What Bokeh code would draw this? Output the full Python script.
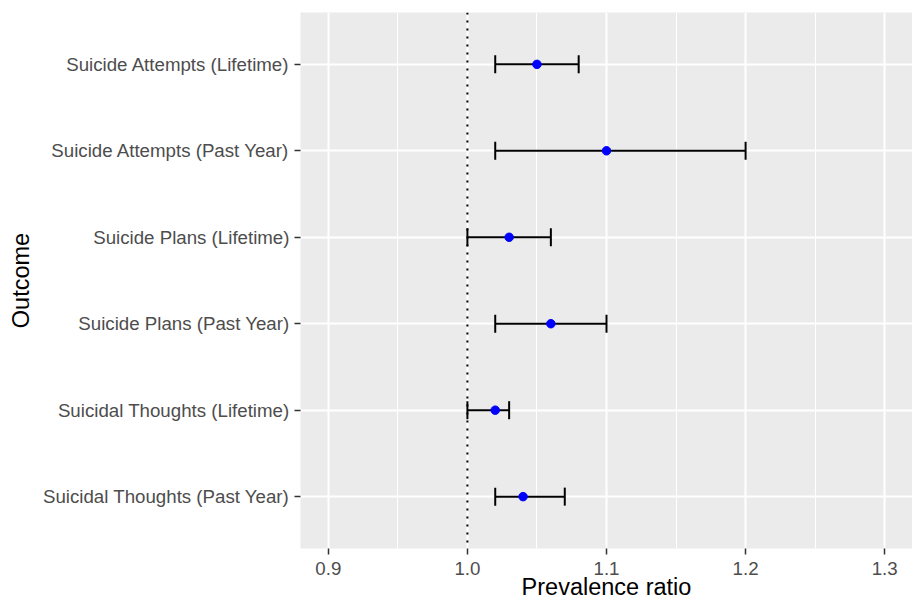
from bokeh.plotting import figure
from bokeh.models import (ColumnDataSource, Whisker, TeeHead, Span, FixedTicker,
                          FactorRange, Range1d, PrintfTickFormatter)
from bokeh.embed import file_html
from bokeh.resources import INLINE

# ---- data (top to bottom as in the chart) ----
outcomes = [
    "Suicide Attempts (Lifetime)",
    "Suicide Attempts (Past Year)",
    "Suicide Plans (Lifetime)",
    "Suicide Plans (Past Year)",
    "Suicidal Thoughts (Lifetime)",
    "Suicidal Thoughts (Past Year)",
]
estimate = [1.05, 1.10, 1.03, 1.06, 1.02, 1.04]
lower = [1.02, 1.02, 1.00, 1.02, 1.00, 1.02]
upper = [1.08, 1.20, 1.06, 1.10, 1.03, 1.07]
x_major_ticks = [0.9, 1.0, 1.1, 1.2, 1.3]
x_minor_ticks = [0.95, 1.05, 1.15, 1.25]
reference_value = 1.0
x_title = "Prevalence ratio"
y_title = "Outcome"

FONT = "Liberation Sans"

source = ColumnDataSource(dict(outcome=outcomes, est=estimate, lo=lower, hi=upper))

y_range = FactorRange(factors=list(reversed(outcomes)),
                      range_padding=0.1, range_padding_units="absolute")

p = figure(width=912, height=603, output_backend="svg", toolbar_location=None,
           x_range=Range1d(0.88, 1.32), y_range=y_range,
           min_border_left=300, min_border_right=0, min_border_top=12,
           min_border_bottom=55)

p.background_fill_color = "#EBEBEB"
p.border_fill_color = "white"
p.outline_line_color = None

# grid
p.xaxis.ticker = FixedTicker(ticks=x_major_ticks, minor_ticks=x_minor_ticks)
p.xgrid.grid_line_color = "white"
p.xgrid.grid_line_width = 2
p.xgrid.minor_grid_line_color = "white"
p.xgrid.minor_grid_line_width = 1
p.ygrid.grid_line_color = "white"
p.ygrid.grid_line_width = 2

# axes
for ax in (p.xaxis[0], p.yaxis[0]):
    ax.axis_line_color = None
    ax.major_tick_in = 0
    ax.major_tick_out = 6
    ax.major_tick_line_color = "#333333"
    ax.major_tick_line_width = 1.5
    ax.minor_tick_line_color = None
    ax.major_label_text_font = FONT
    ax.major_label_text_font_size = "18.7px"
    ax.major_label_text_color = "#4D4D4D"
    ax.axis_label_text_font = FONT
    ax.axis_label_text_font_size = "23.5px"
    ax.axis_label_text_font_style = "normal"
    ax.axis_label_text_color = "black"

p.xaxis.formatter = PrintfTickFormatter(format="%.1f")
p.xaxis.axis_label = x_title
p.xaxis.major_label_standoff = 7
p.xaxis.axis_label_standoff = -4
p.yaxis.axis_label = y_title
p.yaxis.major_label_standoff = 5
p.yaxis.axis_label_standoff = 6

# reference line
p.add_layout(Span(location=reference_value, dimension="height",
                  line_color="black", line_width=2, line_dash="2 6"))

# error bars
w = Whisker(source=source, base="outcome", lower="lo", upper="hi",
            dimension="width", line_color="black", line_width=2,
            upper_head=TeeHead(size=18, line_color="black", line_width=2),
            lower_head=TeeHead(size=18, line_color="black", line_width=2))
p.add_layout(w)

# points
p.scatter(x="est", y="outcome", source=source, size=8.5,
          fill_color="#0000FF", line_color="#0000FF")

open("out.html", "w").write(file_html(p, INLINE))
